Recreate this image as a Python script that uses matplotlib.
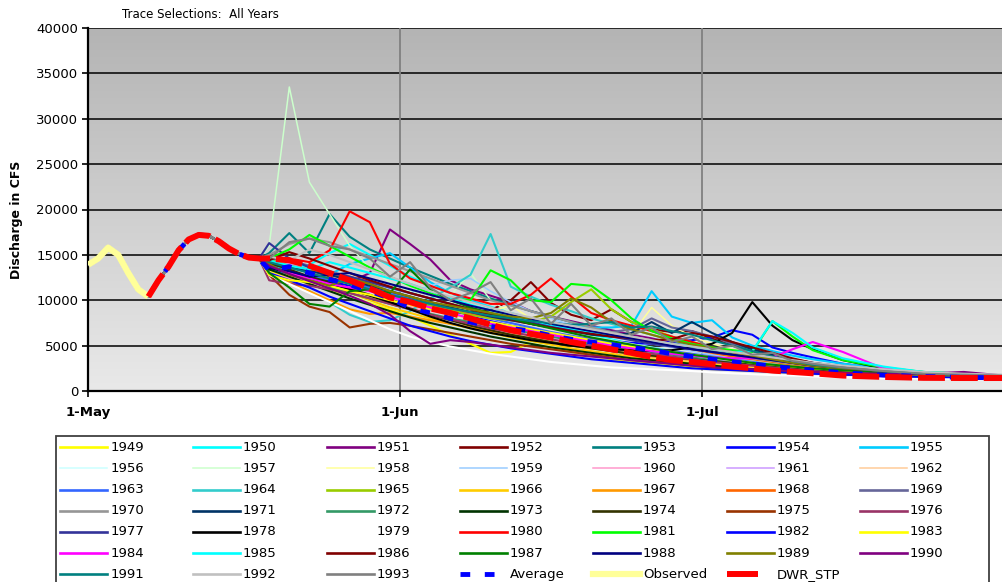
import numpy as np
import matplotlib
matplotlib.use("Agg")
import matplotlib.pyplot as plt
from matplotlib.lines import Line2D
from matplotlib.patches import Rectangle
from matplotlib.colors import LinearSegmentedColormap

plt.rcParams['font.family'] = ['DejaVu Sans']

# days counted from 1-May (day 0), flows in 1000 cfs
hist_days = list(range(18))
hist_kcfs = [13.9, 14.6, 15.8, 15.0, 13.0, 11.2, 10.4, 12.2, 13.7, 15.5, 16.7, 17.2, 17.1, 16.5, 15.7, 15.1, 14.7, 14.6]
obs_end = 7  # observed shown for the first days only

days = [18, 20, 22, 24, 26, 28, 30, 32, 34, 36, 38, 40, 42, 44, 46, 48, 50, 52, 54, 56, 58, 60, 62, 64,
        66, 68, 70, 72, 75, 79, 83, 87, 91]

y1949 = [13.2,12.6,11.9,11.2,10.5,9.8,9.0,8.2, 7.2,6.2,5.2,4.2,4.3,5.4,4.9,4.3, 3.9,3.5,3.2,3.0,2.8,2.6,2.4,2.3, 2.2,2.1,2.0,1.9,1.8,1.65,1.55,1.5,1.4]
y1950 = [14.2,13.5,13.9,15.2,16.2,15.0,13.8,12.6, 11.6,10.8,10.0,9.3,8.6,8.0,7.4,6.8, 6.2,5.7,5.2,4.8,4.4,4.0,3.7,3.4, 3.1,2.9,2.7,2.5,2.3,2.0,1.8,1.7,1.6]
y1951 = [14.0,13.2,12.6,12.3,12.0,13.0,17.8,16.2, 14.5,12.2,11.2,10.5,9.8,8.8,8.2,7.7, 7.2,6.7,6.2,5.8,5.3,4.9,4.5,4.1, 3.7,3.4,3.1,2.8,2.5,2.1,1.9,1.8,1.6]
y1952 = [14.3,13.7,13.1,12.5,11.9,11.3,10.7,10.1, 9.6,9.1,8.7,8.9,10.0,12.0,9.7,8.4, 7.8,9.0,7.6,6.8,6.5,6.6,5.8,5.0, 4.4,3.9,3.4,3.0,2.6,2.2,1.9,1.7,1.6]
y1953 = [15.2,17.4,15.2,19.5,17.0,15.6,14.6,13.6, 12.7,11.8,11.0,10.2,9.5,8.8,8.2,7.6, 7.0,6.5,6.0,5.5,5.1,4.7,4.3,3.9, 3.6,3.3,3.0,2.8,2.5,2.2,1.9,1.8,1.7]
y1954 = [13.6,13.0,12.5,12.1,11.6,11.1,10.6,10.0, 9.4,8.8,8.2,7.7,7.2,6.8,6.4,6.0, 5.7,5.5,5.3,5.2,5.4,5.6,5.9,6.7, 6.2,4.8,4.2,3.7,3.0,2.4,2.0,1.8,1.6]
y1955 = [14.0,13.2,12.6,12.8,14.0,14.6,15.2,13.6, 12.0,10.8,10.0,9.2,8.5,8.0,7.6,7.3, 7.0,7.0,7.2,11.0,8.2,7.5,7.8,5.9, 5.0,4.4,3.9,3.5,3.0,2.5,2.1,1.9,1.7]
y1956 = [13.4,12.8,12.0,11.3,10.6,9.9,9.2,8.5, 7.9,7.3,6.8,6.3,5.8,5.4,5.0,4.6, 4.3,4.0,3.7,3.4,3.2,3.0,2.8,2.6, 2.4,2.3,2.2,2.1,1.9,1.75,1.6,1.5,1.45]
y1957 = [16.0,33.5,23.0,19.5,16.0,13.5,12.0,11.0, 10.2,10.5,13.0,10.0,8.6,7.8,7.2,6.6, 6.0,5.6,5.2,4.8,4.4,4.1,3.8,3.5, 3.2,3.0,2.8,2.6,2.3,2.0,1.8,1.7,1.6]
y1958 = [13.8,13.0,12.2,11.8,11.4,11.0,10.4,9.8, 9.2,8.6,8.2,8.8,9.4,8.0,7.4,6.8, 6.4,6.0,6.2,9.2,7.2,6.0,5.2,4.6, 4.0,3.6,3.2,2.9,2.6,2.2,1.9,1.75,1.6]
y1959 = [14.4,14.0,13.4,12.9,12.4,11.8,11.2,10.8, 11.6,12.2,12.4,11.0,9.8,8.8,8.0,7.3, 6.7,6.1,5.6,5.2,4.8,4.4,4.0,3.6, 3.3,3.0,2.8,2.6,2.3,2.0,1.8,1.7,1.6]
y1960 = [13.0,12.4,11.9,11.5,11.2,10.6,10.0,9.3, 8.6,8.0,7.5,7.0,6.6,6.2,5.8,5.4, 5.0,4.6,4.3,4.0,3.7,3.4,3.1,2.9, 2.7,2.5,2.3,2.2,2.0,1.8,1.7,1.6,1.5]
y1961 = [14.6,14.0,13.2,12.4,11.8,11.0,10.3,9.6, 9.0,8.5,8.0,7.5,7.0,6.6,6.2,5.8, 5.4,5.0,4.7,4.4,4.1,3.8,3.5,3.2, 3.0,2.8,2.6,2.4,2.2,1.95,1.75,1.65,1.55]
y1962 = [13.5,12.7,12.0,11.6,11.0,10.4,9.6,9.0, 8.4,7.8,7.2,6.8,6.4,6.0,5.6,5.2, 4.9,4.6,4.3,4.0,3.7,3.5,3.3,3.1, 2.9,2.7,2.5,2.3,2.1,1.9,1.7,1.6,1.5]
y1963 = [13.4,12.9,12.6,12.3,12.0,11.4,10.8,10.2, 9.6,9.0,8.5,8.0,7.5,7.0,6.5,6.1, 5.7,5.3,5.0,4.7,4.4,4.1,3.8,3.5, 3.2,2.9,2.7,2.5,2.3,2.0,1.8,1.7,1.6]
y1964 = [13.0,12.0,11.0,9.8,8.4,7.6,7.8,8.8, 10.2,11.4,12.8,17.3,11.5,10.4,9.5,8.8, 8.0,7.4,6.8,6.2,5.6,5.0,4.6,4.2, 3.8,3.4,3.0,2.7,2.4,2.1,1.9,1.7,1.6]
y1965 = [14.5,13.8,13.0,12.4,11.8,11.2,10.6,10.0, 9.4,8.9,8.4,8.0,7.8,7.6,8.2,9.8, 11.2,9.0,7.6,6.8,6.0,5.4,4.8,4.3, 3.9,3.5,3.1,2.8,2.5,2.2,1.9,1.75,1.6]
y1966 = [13.7,13.0,12.3,11.6,10.8,10.0,9.2,8.6, 8.0,7.4,6.9,6.4,5.9,5.5,5.1,4.7, 4.4,4.1,3.8,3.5,3.3,3.1,2.9,2.7, 2.5,2.4,2.3,2.2,2.0,1.8,1.7,1.6,1.5]
y1967 = [13.0,12.0,11.0,10.0,9.0,8.5,8.6,8.2, 7.8,7.4,7.0,6.6,6.2,5.8,5.4,5.0, 4.7,4.4,4.1,3.8,3.6,3.4,3.2,3.0, 2.8,2.6,2.4,2.2,2.0,1.8,1.7,1.6,1.5]
y1968 = [14.2,13.8,13.4,13.0,12.4,11.8,11.0,10.4, 9.8,9.2,8.6,8.2,7.8,7.4,7.0,6.8, 6.5,6.2,5.8,5.4,5.0,4.6,4.2,3.8, 3.5,3.2,2.9,2.6,2.4,2.1,1.9,1.75,1.6]
y1969 = [14.6,14.4,13.8,13.2,12.6,12.0,11.4,10.8, 10.2,9.6,9.0,8.5,8.0,7.5,7.1,6.8, 6.6,6.5,6.8,8.0,7.0,6.6,6.0,5.2, 4.6,4.0,3.5,3.1,2.7,2.3,2.0,1.8,1.7]
y1970 = [15.0,16.2,16.8,16.4,15.6,14.8,14.0,13.2, 12.4,11.6,10.8,10.0,9.4,8.8,8.2,7.6, 7.0,6.5,6.0,5.6,5.2,4.8,4.4,4.0, 3.6,3.3,3.0,2.8,2.5,2.2,1.9,1.8,1.7]
y1971 = [14.0,13.6,13.2,12.8,12.2,11.6,11.0,10.4, 9.8,9.2,8.7,8.2,7.8,7.4,7.0,6.6, 6.2,6.0,6.4,7.6,6.4,7.6,6.4,5.4, 4.6,4.0,3.5,3.1,2.7,2.3,2.0,1.8,1.7]
y1972 = [13.8,13.0,12.2,11.4,10.8,10.2,9.6,9.0, 8.5,8.0,7.6,7.2,6.8,6.4,6.0,5.6, 5.2,4.9,4.6,4.3,4.0,3.7,3.4,3.1, 2.9,2.7,2.5,2.3,2.1,1.9,1.7,1.6,1.5]
y1973 = [13.4,12.6,11.8,11.0,10.2,9.5,8.8,8.1, 7.5,7.0,6.5,6.0,5.6,5.2,4.8,4.5, 4.2,3.9,3.6,3.4,3.2,3.0,2.8,2.6, 2.4,2.3,2.2,2.0,1.9,1.7,1.6,1.5,1.45]
y1974 = [14.1,13.4,12.6,12.0,11.3,10.6,9.8,9.1, 8.4,7.8,7.2,6.7,6.2,5.8,5.4,5.0, 4.7,4.4,4.1,3.9,3.7,3.5,3.3,3.1, 2.9,2.7,2.5,2.3,2.1,1.9,1.7,1.6,1.5]
y1975 = [12.8,10.6,9.3,8.7,7.0,7.4,7.5,7.2, 6.8,6.4,6.0,5.6,5.2,4.9,4.6,4.3, 4.0,3.7,3.4,3.2,3.0,2.8,2.6,2.4, 2.3,2.2,2.1,2.0,1.8,1.7,1.6,1.5,1.4]
y1976 = [12.2,11.8,11.6,11.2,10.8,10.2,9.6,9.0, 8.4,7.9,7.4,6.9,6.5,6.1,5.7,5.3, 5.0,4.7,4.4,4.1,3.8,3.5,3.2,3.0, 2.8,2.6,2.4,2.2,2.0,1.8,1.7,1.6,1.5]
y1977 = [16.3,14.6,13.6,13.0,12.6,12.0,11.4,10.8, 10.2,9.6,9.0,8.5,8.0,7.6,7.2,6.8, 6.4,6.0,5.6,5.2,4.9,4.6,4.3,4.0, 3.7,3.4,3.1,2.8,2.5,2.2,1.9,1.8,1.7]
y1978 = [13.6,13.0,12.4,11.8,11.2,10.5,9.8,9.0, 8.2,7.5,6.9,6.4,6.0,5.6,5.3,5.0, 4.8,4.6,4.5,4.4,4.5,4.8,5.2,6.4, 9.8,7.2,5.6,4.6,3.4,2.5,2.0,1.8,1.7]
y1979 = [12.8,11.8,10.8,9.8,8.8,7.8,6.8,6.0, 5.4,4.9,4.5,4.1,3.8,3.5,3.2,3.0, 2.8,2.6,2.5,2.4,2.3,2.2,2.05,1.95, 1.85,1.75,1.7,1.6,1.5,1.4,1.35,1.3,1.25]
y1980 = [14.8,14.6,14.2,15.5,19.8,18.6,14.0,12.4, 11.6,10.8,10.2,9.6,9.6,10.6,12.4,10.4, 8.6,7.8,7.2,6.6,6.0,5.4,4.8,4.3, 3.9,3.5,3.1,2.8,2.5,2.2,1.9,1.75,1.6]
y1981 = [14.6,15.6,17.2,16.0,14.8,13.6,12.6,11.6, 10.8,10.2,10.0,13.3,12.2,10.0,9.8,11.8, 11.6,10.0,8.0,6.6,5.8,5.2,4.8,4.5, 4.3,7.7,6.0,4.5,3.4,2.6,2.1,1.9,1.7]
y1982 = [13.0,12.2,11.4,10.4,9.6,8.8,8.0,7.2, 6.6,6.0,5.5,5.1,4.7,4.4,4.1,3.8, 3.5,3.3,3.1,2.9,2.7,2.5,2.4,2.3, 2.2,2.1,2.0,1.9,1.8,1.65,1.55,1.5,1.4]
y1983 = [12.8,12.2,12.0,11.6,11.0,10.6,10.0,9.5, 9.0,8.5,8.0,7.6,7.2,6.8,6.4,6.0, 5.6,5.2,4.9,4.6,4.3,4.0,3.7,3.4, 3.1,2.9,2.7,2.5,2.3,2.0,1.8,1.7,1.6]
y1984 = [13.8,13.0,12.4,11.8,11.4,11.0,10.4,9.8, 9.2,8.6,8.0,7.4,7.0,6.6,6.2,5.8, 5.4,5.0,4.7,4.4,4.1,3.9,3.7,3.6, 3.6,3.7,4.6,5.4,4.3,2.5,2.0,1.8,1.7]
y1985 = [14.4,13.8,13.4,14.2,13.6,13.0,12.4,11.8, 11.0,10.2,9.5,8.9,8.3,7.8,7.3,6.9, 6.5,6.1,5.8,5.5,5.2,4.9,4.6,4.3, 4.4,7.7,6.4,4.8,3.6,2.7,2.1,1.9,1.7]
y1986 = [14.4,15.3,14.6,13.8,13.0,12.2,11.5,10.8, 10.2,9.6,9.0,8.4,7.9,7.4,7.0,6.6, 6.3,6.0,5.8,5.6,5.7,6.4,6.0,5.4, 4.8,4.2,3.6,3.1,2.6,2.2,1.9,1.75,1.6]
y1987 = [13.0,11.4,9.6,9.3,11.0,11.2,10.8,13.4, 11.2,10.0,9.2,8.6,8.0,7.4,6.9,6.4, 5.9,5.5,5.1,4.7,4.3,4.0,3.7,3.4, 3.1,2.9,2.7,2.5,2.3,2.0,1.8,1.7,1.6]
y1988 = [13.6,13.2,12.6,12.8,13.0,12.4,11.8,11.2, 10.6,10.0,9.4,8.9,8.4,7.9,7.4,7.0, 6.6,6.2,5.8,5.4,5.0,4.6,4.3,4.0, 3.7,3.4,3.1,2.8,2.5,2.2,1.9,1.8,1.65]
y1989 = [14.0,12.8,12.2,11.6,12.4,11.8,11.0,10.4, 9.8,9.4,9.0,8.6,8.2,8.0,8.6,10.2, 9.2,7.6,6.8,6.2,5.6,5.1,4.7,4.3, 3.9,3.5,3.1,2.8,2.5,2.2,1.9,1.75,1.6]
y1990 = [13.8,12.9,12.1,11.3,10.5,9.6,8.4,6.6, 5.2,5.6,5.4,5.1,4.8,4.5,4.2,4.0, 3.8,3.6,3.4,3.2,3.0,2.8,2.6,2.5, 2.4,2.3,2.2,2.1,2.0,1.9,1.9,2.1,1.7]
y1991 = [14.2,13.6,13.0,12.4,11.8,11.2,10.6,10.1, 9.6,9.1,8.7,8.3,8.0,7.7,7.5,7.3, 7.4,7.6,7.0,7.1,6.6,6.2,5.6,5.0, 4.4,3.8,3.3,2.9,2.6,2.2,1.9,1.8,1.7]
y1992 = [14.8,14.4,15.6,15.0,14.2,13.4,12.6,11.8, 11.0,10.4,9.8,9.2,8.6,8.1,7.6,7.2, 6.8,6.4,6.0,5.6,5.2,4.9,4.6,4.3, 4.0,3.7,3.4,3.1,2.8,2.4,2.1,1.9,1.8]
y1993 = [14.6,16.4,16.8,16.0,15.6,14.6,12.6,14.2, 11.4,10.0,10.8,12.0,8.9,10.2,7.4,9.6, 7.2,8.0,6.2,7.0,5.4,6.0,4.6,5.0, 4.0,4.2,3.3,3.0,2.6,2.2,1.9,1.8,1.7]

average = [13.3,13.7,13.0,12.3,11.7,11.0,10.2,9.2, 8.6,8.0,7.6,7.1,6.9,6.6,6.1,5.7, 5.4,5.1,4.8,4.5,4.1,3.8,3.5,3.2, 3.0,2.7,2.5,2.3,2.0,1.75,1.6,1.5,1.45]
dwr_stp = [14.6,14.4,13.8,13.0,12.2,11.3,10.3,9.8, 9.1,8.6,8.0,7.3,6.7,6.3,5.9,5.4, 5.0,4.6,4.2,3.75,3.4,3.2,2.95,2.7, 2.5,2.25,2.1,1.95,1.7,1.55,1.45,1.43,1.43]

years = list(range(1949, 1994))
year_series = [y1949, y1950, y1951, y1952, y1953, y1954, y1955, y1956, y1957, y1958, y1959, y1960,
               y1961, y1962, y1963, y1964, y1965, y1966, y1967, y1968, y1969, y1970, y1971, y1972,
               y1973, y1974, y1975, y1976, y1977, y1978, y1979, y1980, y1981, y1982, y1983, y1984,
               y1985, y1986, y1987, y1988, y1989, y1990, y1991, y1992, y1993]
year_colors = ['#FFFF00', '#00FFFF', '#800080', '#800000', '#008080', '#0000FF', '#00CCFF',
               '#CCFFFF', '#CCFFCC', '#FFFF99', '#99CCFF', '#FF99CC', '#CC99FF', '#FFCC99',
               '#3366FF', '#33CCCC', '#99CC00', '#FFCC00', '#FF9900', '#FF6600', '#666699',
               '#969696', '#003366', '#339966', '#003300', '#333300', '#993300', '#993366',
               '#333399', '#000000', '#FFFFFF', '#FF0000', '#00FF00', '#0000FF', '#FFFF00',
               '#FF00FF', '#00FFFF', '#800000', '#008000', '#000080', '#808000', '#800080',
               '#008080', '#C0C0C0', '#808080']
thin_years = [1956, 1957, 1958, 1959, 1960, 1961, 1962]

W, H = 1003, 582
fig = plt.figure(figsize=(W / 100, H / 100), dpi=100)
ax = fig.add_axes([88 / W, 1 - 391 / H, 915 / W, 363 / H])
xmax = 915 / 10.065

# gray gradient plot area
cmap = LinearSegmentedColormap.from_list('bg', ['#b4b4b4', '#e9e9e9'])
ax.imshow(np.linspace(0, 1, 200).reshape(-1, 1), extent=[0, xmax, 0, 40000], aspect='auto',
          cmap=cmap, origin='upper', zorder=0)
for v in range(5000, 40001, 5000):
    ax.axhline(v, color='black', lw=1.1, zorder=1)
for d in [31, 61]:
    ax.axvline(d, color='#808080', lw=1.3, zorder=1)

for yr, vals, col in zip(years, year_series, year_colors):
    lw = 1.1 if yr in thin_years else 1.5
    ax.plot(hist_days + days, np.array(hist_kcfs + vals) * 1000, color=col, lw=lw, zorder=2)

ax.plot(hist_days + days, np.array(hist_kcfs + average) * 1000, color='#0000FF', lw=3.5,
        dashes=(2, 3), zorder=3)
ax.plot(hist_days[:obs_end], np.array(hist_kcfs[:obs_end]) * 1000, color='#FFFF99', lw=4.5,
        solid_capstyle='butt', zorder=4)
ax.plot(hist_days[obs_end - 1:] + days, np.array(hist_kcfs[obs_end - 1:] + dwr_stp) * 1000,
        color='#FF0000', lw=4.3, dashes=(4.5, 1), zorder=5)

ax.set_xlim(0, xmax)
ax.set_ylim(0, 40000)
ax.set_yticks(range(0, 40001, 5000))
ax.set_yticklabels([str(v) for v in range(0, 40001, 5000)], fontsize=9.5)
ax.set_xticks([0, 31, 61])
ax.set_xticklabels(['1-May', '1-Jun', '1-Jul'], fontsize=9.5, fontweight='bold')
ax.tick_params(axis='y', length=4, width=1.2, pad=3)
ax.tick_params(axis='x', length=4.5, width=1.2, pad=6)
for s in ['top', 'right']:
    ax.spines[s].set_visible(False)
for s in ['left', 'bottom']:
    ax.spines[s].set_linewidth(1.6)

fig.text(122 / W, 1 - 15 / H, 'Trace Selections:  All Years', fontsize=8.5, va='center')
fig.text(17 / W, 1 - 220 / H, 'Discharge in CFS', rotation=90, fontsize=9, fontweight='bold',
         va='center', ha='center')

# legend, filled row by row
fig.add_artist(Rectangle((56 / W, 1 - 620 / H), (989 - 56) / W, (620 - 436) / H,
                         transform=fig.transFigure, fill=False, edgecolor='#404040', lw=1.3))
col_x = [60.5, 193, 327, 460, 593, 727, 860]
names = [str(y) for y in years] + ['Average', 'Observed', 'DWR_STP']
for k, name in enumerate(names):
    r, c = divmod(k, 7)
    x0 = col_x[c]
    yy = 1 - (447.3 + r * 21.17) / H
    if name == 'Average':
        ln = Line2D([x0 / W, (x0 + 47) / W], [yy, yy], color='#0000FF', lw=3.5, dashes=(2, 3))
    elif name == 'Observed':
        ln = Line2D([x0 / W, (x0 + 47) / W], [yy, yy], color='#FFFF99', lw=4.5)
    elif name == 'DWR_STP':
        ln = Line2D([x0 / W, (x0 + 31) / W], [yy, yy], color='#FF0000', lw=4.3,
                    solid_capstyle='butt')
    else:
        yr = int(name)
        lw = 1.1 if yr in thin_years else 1.9
        ln = Line2D([x0 / W, (x0 + 47) / W], [yy, yy], color=year_colors[k], lw=lw)
    ln.set_transform(fig.transFigure)
    fig.add_artist(ln)
    fig.text((x0 + 50) / W, yy, name, fontsize=9.5, va='center', ha='left')

fig.savefig('out.png', dpi=100)
